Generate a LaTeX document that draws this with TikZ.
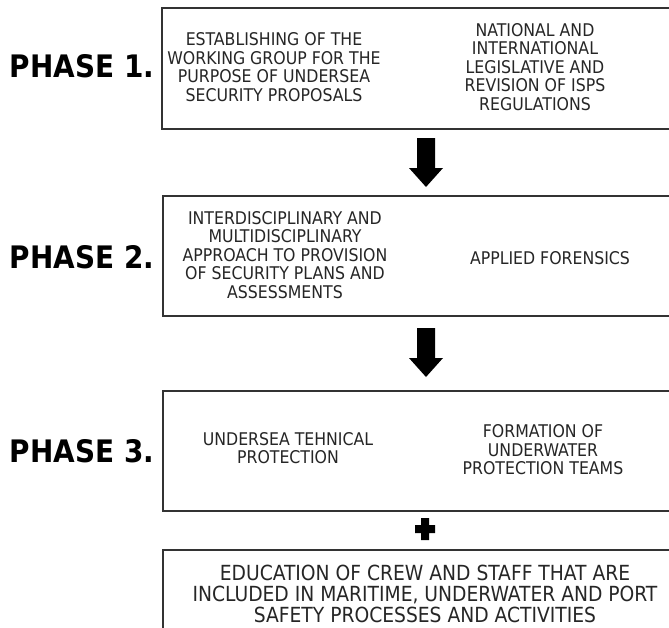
\documentclass[tikz,border=0pt]{standalone}
\usepackage{fontspec}
\setmainfont{DejaVu Sans Condensed}
\begin{document}
\begin{tikzpicture}[x=1pt,y=-1pt,
  boxline/.style={draw=black!80, line width=1.8pt},
  txt/.style={align=center, text=black!85, font=\fontsize{17.5}{18.5}\selectfont, inner sep=0pt},
  bigtxt/.style={align=center, text=black!85, font=\fontsize{20.8}{21}\selectfont, inner sep=0pt},
  phase/.style={text=black, font=\fontsize{31}{33}\selectfont\bfseries, inner sep=0pt},
  blockarrow/.style={fill=black}
]
\clip (0,0) rectangle (669,627);
\fill[white] (0,0) rectangle (669,627);

% boxes
\node[boxline, anchor=north west, minimum width=520pt, minimum height=121pt, inner sep=0pt] (box1) at (161,7) {};
\node[boxline, anchor=north west, minimum width=520pt, minimum height=120pt, inner sep=0pt] (box2) at (162,195) {};
\node[boxline, anchor=north west, minimum width=520pt, minimum height=120pt, inner sep=0pt] (box3) at (162,390) {};
\node[boxline, anchor=north west, minimum width=520pt, minimum height=100pt, inner sep=0pt] (box4) at (162,549) {};

% phase labels
\node[phase] (p1) at (82,66) {PHASE 1.};
\node[phase] (p2) at (82,257) {PHASE 2.};
\node[phase] (p3) at (82,451) {PHASE 3.};

% box 1 texts
\node[txt] (t1a) at (274,67) {ESTABLISHING OF THE\\WORKING GROUP FOR THE\\PURPOSE OF UNDERSEA\\SECURITY PROPOSALS};
\node[txt] (t1b) at (535,67) {NATIONAL AND\\INTERNATIONAL\\LEGISLATIVE AND\\REVISION OF ISPS\\REGULATIONS};

% box 2 texts
\node[txt] (t2a) at (285,255) {INTERDISCIPLINARY AND\\MULTIDISCIPLINARY\\APPROACH TO PROVISION\\OF SECURITY PLANS AND\\ASSESSMENTS};
\node[txt] (t2b) at (550,258) {APPLIED FORENSICS};

% box 3 texts
\node[txt] (t3a) at (288,448) {UNDERSEA TEHNICAL\\PROTECTION};
\node[txt] (t3b) at (543,450) {FORMATION OF\\UNDERWATER\\PROTECTION TEAMS};

% box 4 text
\node[bigtxt] (t4) at (425,594) {EDUCATION OF CREW AND STAFF THAT ARE\\INCLUDED IN MARITIME, UNDERWATER AND PORT\\SAFETY PROCESSES AND ACTIVITIES};

% block arrows
\coordinate (a1) at (426,138);
\coordinate (a2) at (426,328);
\foreach \a in {a1,a2}{
  \fill[blockarrow] ([xshift=-9pt]\a) -- ([xshift=9pt]\a) -- ([xshift=9pt,yshift=-30pt]\a)
    -- ([xshift=17pt,yshift=-30pt]\a) -- ([yshift=-49pt]\a) -- ([xshift=-17pt,yshift=-30pt]\a)
    -- ([xshift=-9pt,yshift=-30pt]\a) -- cycle;
}

% plus sign
\coordinate (pl) at (425,529);
\fill[black] ([xshift=-4pt,yshift=11pt]pl) -- ([xshift=4pt,yshift=11pt]pl) -- ([xshift=4pt,yshift=4pt]pl)
  -- ([xshift=10pt,yshift=4pt]pl) -- ([xshift=10pt,yshift=-4pt]pl) -- ([xshift=4pt,yshift=-4pt]pl)
  -- ([xshift=4pt,yshift=-11pt]pl) -- ([xshift=-4pt,yshift=-11pt]pl) -- ([xshift=-4pt,yshift=-4pt]pl)
  -- ([xshift=-10pt,yshift=-4pt]pl) -- ([xshift=-10pt,yshift=4pt]pl) -- ([xshift=-4pt,yshift=4pt]pl) -- cycle;
\end{tikzpicture}
\end{document}
